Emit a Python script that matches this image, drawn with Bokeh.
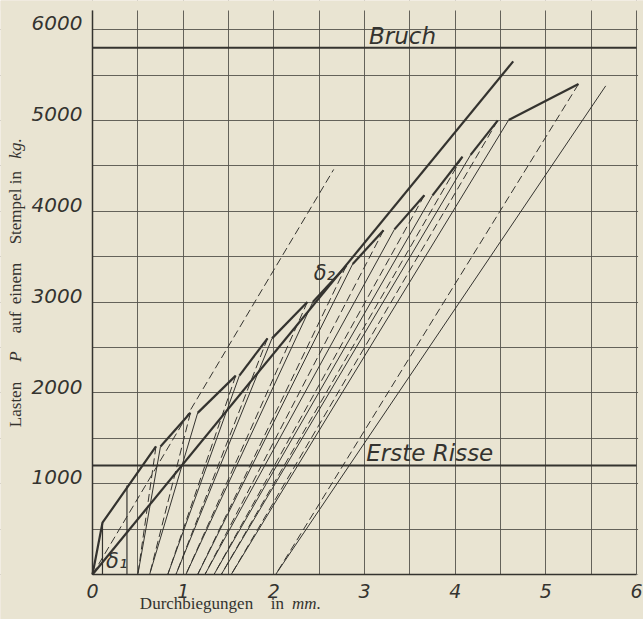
import math
from bokeh.plotting import figure
from bokeh.models import Label, FixedTicker, BoxAnnotation
from bokeh.embed import file_html
from bokeh.resources import INLINE

# ---------------- data ----------------
x_ticks = [0, 1, 2, 3, 4, 5, 6]
y_ticks = [1000, 2000, 3000, 4000, 5000, 6000]
x_grid = [0.0, 0.5, 1.0, 1.5, 2.0, 2.5, 3.0, 3.5, 4.0, 4.5, 5.0, 5.5, 6.0]
y_grid = [0, 500, 1000, 1500, 2000, 2500, 3000, 3500, 4000, 4500, 5000, 5500, 6000]

bruch_load = 5800
risse_load = 1200

# long straight loading line from the origin
long_x = [0.0, 4.64]
long_p = [0, 5650]

# first kink of the loading curve
first_x = [0.0, 0.11]
first_p = [0, 570]

# loading segments (thick): start -> peak
seg_start_x = [0.11, 0.75, 1.16, 1.62, 1.98, 2.43, 2.87, 3.33, 3.75, 4.17, 4.59]
seg_start_p = [570, 1410, 1780, 2190, 2600, 3000, 3420, 3800, 4175, 4620, 5005]
peak_x = [0.70, 1.08, 1.58, 1.93, 2.37, 2.80, 3.21, 3.66, 4.08, 4.47, 5.36]
peak_p = [1410, 1780, 2190, 2600, 3000, 3400, 3790, 4175, 4600, 5000, 5400]
# permanent deflection after unloading
residual_x = [0.50, 0.63, 0.83, 0.92, 1.03, 1.16, 1.24, 1.34, 1.42, 1.53, 2.02]
# end of the last reloading line
last_reload_x = 5.66
last_reload_p = 5380

# delta-1 construction lines
d1_x = [0.11, 0.38]
d1_p = [570, 980]

# dashed reference line from the origin
ref_x = [0.0, 2.66]
ref_p = [0, 4460]

# axis titles, word by word as printed (centre along the axis, style)
y_title_words = [("Lasten", 1872, "normal"), ("P", 2400, "italic"),
                 ("auf", 2775, "normal"), ("einem", 3204, "normal"),
                 ("Stempel", 3942, "normal"), ("in", 4371, "normal"),
                 ("kg.", 4691, "italic")]
x_title_words = [("Durchbiegungen", 1.147, "normal"), ("in", 2.04, "normal"),
                 ("mm.", 2.36, "italic")]

# ---------------- styling / geometry ----------------
PAPER = "#e9e4d2"
INK = "#34332f"
GRID = "#55534d"
TICK_FONT = "DejaVu Sans"
SERIF = "Liberation Serif"
LABEL_LIFT = 70          # y tick labels sit a little above their grid line
X_MAX = 6.0
Y_TOP = 6210             # grid lines run up to here
X_RANGE = (-1.0147, 6.077)
Y_RANGE = (-495.5, 6320.4)
Y_TITLE_X = -0.849       # where the rotated y title stands
X_TITLE_Y = -319         # where the x title stands

p = figure(width=643, height=619, x_range=X_RANGE, y_range=Y_RANGE,
           output_backend="svg", toolbar_location=None, min_border=0)
p.background_fill_color = PAPER
p.border_fill_color = PAPER
p.outline_line_color = None

p.xgrid.ticker = FixedTicker(ticks=x_grid)
p.ygrid.ticker = FixedTicker(ticks=y_grid)
for g in (p.xgrid, p.ygrid):
    g.grid_line_color = GRID
    g.grid_line_width = 1
    g.grid_line_alpha = 0.9

# paper masks so the grid stays inside the drawn field
for kw in (dict(top=0), dict(right=0), dict(bottom=Y_TOP), dict(left=X_MAX + 0.017)):
    p.add_layout(BoxAnnotation(fill_color=PAPER, fill_alpha=1.0, line_alpha=0,
                               level="underlay", **kw))

p.xaxis.ticker = FixedTicker(ticks=x_ticks)
p.yaxis.ticker = FixedTicker(ticks=[t + LABEL_LIFT for t in y_ticks])
p.yaxis.major_label_overrides = {t + LABEL_LIFT: str(t) for t in y_ticks}
p.xaxis.fixed_location = 0
p.yaxis.fixed_location = 0
p.xaxis.bounds = (0, X_MAX)
p.yaxis.bounds = (0, Y_TOP)
for ax in (p.xaxis, p.yaxis):
    ax.axis_line_color = INK
    ax.axis_line_width = 1.5
    ax.major_tick_line_color = None
    ax.minor_tick_line_color = None
    ax.major_tick_in = 0
    ax.major_tick_out = 0
    ax.major_label_text_font = TICK_FONT
    ax.major_label_text_font_style = "italic"
    ax.major_label_text_font_size = "19px"
    ax.major_label_text_color = INK
p.yaxis.major_label_text_font_size = "20px"
p.xaxis.major_label_standoff = 9
p.yaxis.major_label_standoff = 10

# Bruch / Erste Risse lines
p.line([0, X_MAX], [bruch_load, bruch_load], line_color=INK, line_width=2)
p.line([0, X_MAX], [risse_load, risse_load], line_color=INK, line_width=2)

# long line
p.line(long_x, long_p, line_color=INK, line_width=2.2)

# thick loading segments
thick_xs = []
thick_ps = []
for i in range(len(peak_x)):
    xs = [seg_start_x[i], peak_x[i]]
    ps = [seg_start_p[i], peak_p[i]]
    if i == 0:
        xs = first_x + [peak_x[i]]
        ps = first_p + [peak_p[i]]
    thick_xs.append(xs)
    thick_ps.append(ps)
p.multi_line(thick_xs, thick_ps, line_color=INK, line_width=2.2)

# unloading (dashed) and reloading (thin) lines
un_xs, un_ps, re_xs, re_ps = [], [], [], []
for i in range(len(peak_x)):
    un_xs.append([peak_x[i], residual_x[i]])
    un_ps.append([peak_p[i], 0])
    if i + 1 < len(peak_x):
        re_xs.append([residual_x[i], seg_start_x[i + 1]])
        re_ps.append([0, seg_start_p[i + 1]])
    else:
        re_xs.append([residual_x[i], last_reload_x])
        re_ps.append([0, last_reload_p])
p.multi_line(un_xs, un_ps, line_color=INK, line_width=1, line_dash="8 4")
p.multi_line(re_xs, re_ps, line_color=INK, line_width=1)

# delta-1 verticals
p.multi_line([[d1_x[0], d1_x[0]], [d1_x[1], d1_x[1]]], [[0, d1_p[0]], [0, d1_p[1]]],
             line_color=INK, line_width=1.2)

# reference dashed line
p.line(ref_x, ref_p, line_color=INK, line_width=1, line_dash="8 4")


def lab(x, y, text, size="19px", font=TICK_FONT, style="italic", angle=0.0,
        align="left", baseline="middle"):
    p.add_layout(Label(x=x, y=y, text=text, text_font=font, text_font_size=size,
                       text_font_style=style, text_color=INK, angle=angle,
                       text_align=align, text_baseline=baseline))


lab(3.05, 5935, "Bruch", size="23px")
lab(3.02, 1343, "Erste Risse", size="23px")
lab(0.15, 154, "δ₁", size="21px")
lab(2.44, 3325, "δ₂", size="21px")

# axis titles
for txt, y0, st in y_title_words:
    lab(Y_TITLE_X, y0, txt, size="17px", font=SERIF, style=st,
        angle=math.pi / 2, align="center")
for txt, x0, st in x_title_words:
    lab(x0, X_TITLE_Y, txt, size="17px", font=SERIF, style=st, align="center")

html = file_html(p, INLINE)
html = html.replace("<body>", '<body style="background:%s">' % PAPER, 1)
open("out.html", "w").write(html)
